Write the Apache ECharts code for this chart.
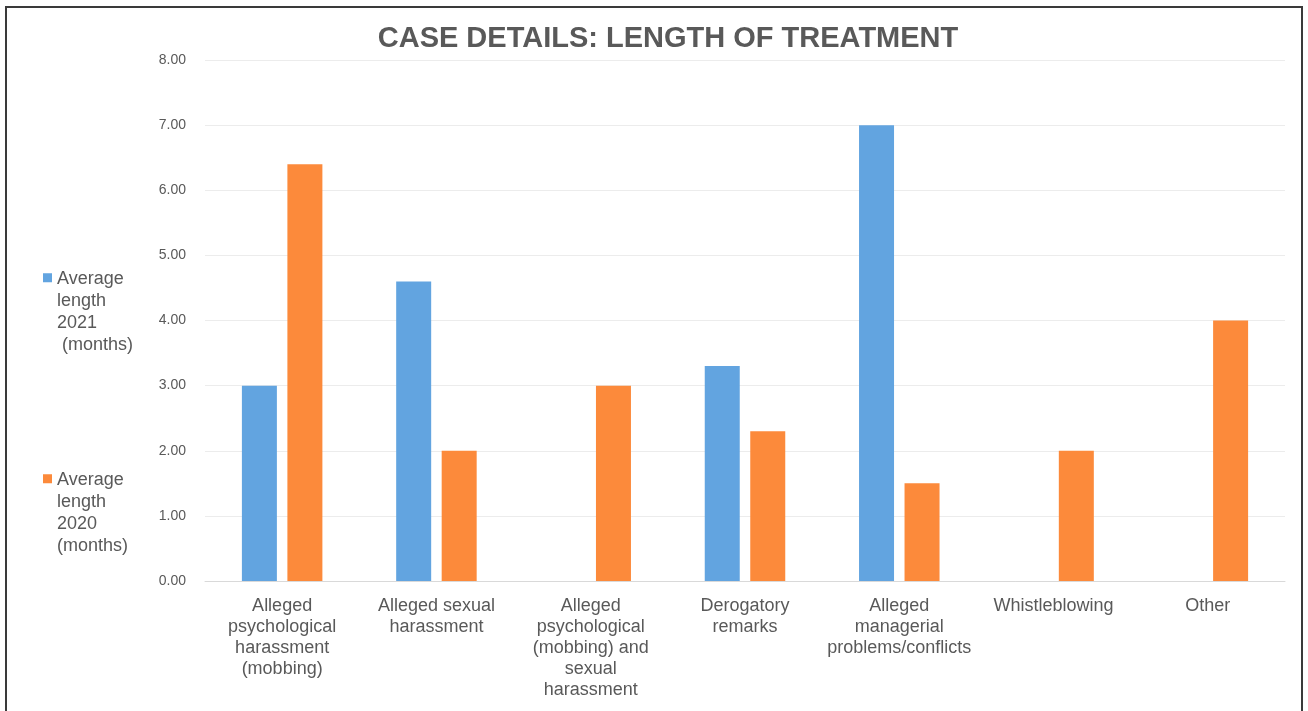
<!DOCTYPE html>
<html><head><meta charset="utf-8">
<script src="https://cdn.jsdelivr.net/npm/echarts@6/dist/echarts.min.js"></script>
<style>
html,body{margin:0;padding:0;background:#fff;}
#c{width:1308px;height:711px;}
#frame{position:absolute;left:5px;top:6px;width:1294px;height:720px;border:2px solid #3a3a3a;border-bottom:none;pointer-events:none;}
</style></head>
<body>
<div id="c"></div>
<div id="frame"></div>
<script>
const categories = [
  "Alleged\npsychological\nharassment\n(mobbing)",
  "Alleged sexual\nharassment",
  "Alleged\npsychological\n(mobbing) and\nsexual\nharassment",
  "Derogatory\nremarks",
  "Alleged\nmanagerial\nproblems/conflicts",
  "Whistleblowing",
  "Other"
];
const seriesNames = ["Average length 2021 (months)", "Average length 2020 (months)"];
const legendLabels = ["Average\nlength\n2021\n (months)", "Average\nlength\n2020\n(months)"];
const values2021 = [3.0, 4.6, null, 3.3, 7.0, null, null];
const values2020 = [6.4, 2.0, 3.0, 2.3, 1.5, 2.0, 4.0];
const yTicks = [0, 1, 2, 3, 4, 5, 6, 7, 8];

const txt = '#595959';
const font = 'Liberation Sans, Arial, sans-serif';
const iconPath = 'path://M0,0 L10,0 L10,10 L0,10 Z M0,86 L0.01,86 L0,86 Z';

const chart = echarts.init(document.getElementById('c'));
chart.setOption({
  animation: false,
  title: {
    text: 'CASE DETAILS: LENGTH OF TREATMENT',
    left: 663, top: 19, textAlign: 'center',
    textStyle: {color: txt, fontSize: 29, fontWeight: 'bold', fontFamily: font}
  },
  legend: [0, 1].map(i => ({
    data: [seriesNames[i]],
    orient: 'vertical',
    left: 38, top: i === 0 ? 263 : 464,
    itemWidth: 9, itemHeight: 86,
    icon: iconPath,
    itemGap: 0,
    formatter: () => legendLabels[i],
    textStyle: {color: txt, fontSize: 18, fontFamily: font, lineHeight: 22}
  })),
  grid: {left: 205, right: 23, top: 60, bottom: 130},
  xAxis: {
    type: 'category',
    data: categories,
    axisTick: {show: false},
    axisLine: {lineStyle: {color: '#d9d9d9', width: 1}},
    axisLabel: {color: txt, fontSize: 18, fontFamily: font, lineHeight: 21, margin: 15, interval: 0}
  },
  yAxis: {
    type: 'value',
    min: yTicks[0], max: yTicks[yTicks.length - 1], interval: 1,
    axisLine: {show: false}, axisTick: {show: false},
    splitLine: {lineStyle: {color: '#ececec', width: 1}},
    axisLabel: {color: txt, fontSize: 14, fontFamily: font, margin: 19, formatter: v => v.toFixed(2)}
  },
  series: [
    {name: seriesNames[0], type: 'bar', data: values2021, barWidth: 35, barGap: '30%',
     itemStyle: {color: '#62a4e0'}},
    {name: seriesNames[1], type: 'bar', data: values2020, barWidth: 35, barGap: '30%',
     itemStyle: {color: '#fc8a3b'}}
  ]
});
</script>
</body></html>
